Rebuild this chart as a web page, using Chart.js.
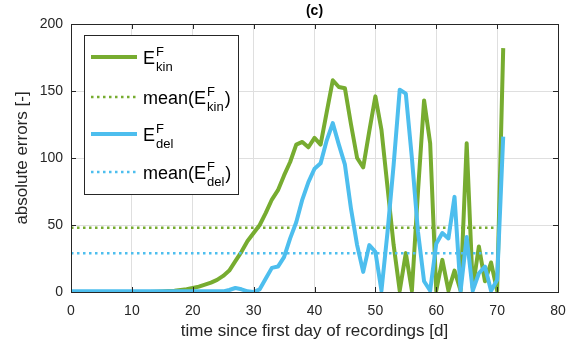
<!DOCTYPE html>
<html>
<head>
<meta charset="utf-8">
<script src="https://cdn.jsdelivr.net/npm/chart.js@4"></script>
<style>
  html, body { margin: 0; padding: 0; background: #fff; }
  #wrap { width: 578px; height: 347px; }
</style>
</head>
<body>
<div id="wrap"><canvas id="errChart" width="578" height="347"></canvas></div>
<script>
// Days since first recording
const days = [];
for (let d = 0; d <= 71; d++) days.push(d);

// E_kin^F absolute errors (green)
const kinErr = [
    0, 0, 0, 0, 0, 0, 0, 0, 0, 0, 0, 0, 0, 0, 0.2,
    0.4, 0.7, 1, 1.5, 2, 3, 4, 5.5, 7, 9, 12, 16, 23, 30, 38,
    44, 50, 59, 69, 76, 87, 97, 110, 112, 108, 115, 110, 134, 158, 153, 152, 125, 100, 93, 120,
    146, 121, 78, 35, 1, 29, 1, 75, 143, 111, 1, 24, 1, 16, 1, 111, 3, 34, 8, 22, 1, 182
];

// E_del^F absolute errors (blue)
const delErr = [
    0.5, 0.5, 0.5, 0.5, 0.5, 0.5, 0.5, 0.5, 0.5, 0.5, 0.5, 0.5, 0.5,
    0.5, 0.5, 0.5, 0.5, 0.5, 0.5, 0.5, 0.5, 0.5, 0.5, 0.5, 0.5, 0.5,
    1.5, 3, 2, 0.5, 0, 2, 10, 18, 19, 26, 40, 52, 69, 82, 92, 96, 113, 126, 110, 95, 62, 35, 15, 35,
    30, 1, 45, 95, 151, 148, 100, 45, 8, 1, 36, 44, 40, 71, 1, 41, 1, 14, 19, 1, 9, 116
];

// means
const meanKin = 48;
const meanDel = 29;
const meanDays = [0, 70];

const xTicks = [0, 10, 20, 30, 40, 50, 60, 70, 80];
const yTicks = [0, 50, 100, 150, 200];

const green = "#77AC30";
const blue = "#4DBEEE";
const axisCol = "#262626";

const pts = (xs, ys) => xs.map((x, i) => ({ x: x, y: ys[i] }));

// box + inward ticks + title + legend (legend needs super/subscripts)
const decor = {
    id: "decor",
    afterDraw(chart) {
        const c = chart.ctx;
        const a = chart.chartArea;
        const xs = chart.scales.x, ys = chart.scales.y;
        c.save();
        c.strokeStyle = axisCol;
        c.lineWidth = 1;
        c.strokeRect(Math.round(a.left) + 0.5, Math.round(a.top) + 0.5,
            Math.round(a.right - a.left), Math.round(a.bottom - a.top));
        const tl = 5;
        c.beginPath();
        xTicks.forEach(t => {
            const px = Math.round(xs.getPixelForValue(t)) + 0.5;
            c.moveTo(px, a.bottom); c.lineTo(px, a.bottom - tl);
            c.moveTo(px, a.top); c.lineTo(px, a.top + tl);
        });
        yTicks.forEach(t => {
            const py = Math.round(ys.getPixelForValue(t)) + 0.5;
            c.moveTo(a.left, py); c.lineTo(a.left + tl, py);
            c.moveTo(a.right, py); c.lineTo(a.right - tl, py);
        });
        c.stroke();

        // title
        c.fillStyle = "#000";
        c.font = "bold 14px 'Liberation Sans', Arial, sans-serif";
        c.textAlign = "center";
        c.textBaseline = "middle";
        c.fillText("(c)", (a.left + a.right) / 2, 11);

        // legend
        const bx = 84, by = 35, bw = 154, bh = 159;
        c.fillStyle = "#fff";
        c.fillRect(bx, by, bw, bh);
        c.strokeStyle = axisCol;
        c.strokeRect(bx + 0.5, by + 0.5, bw, bh);
        const rows = [
            { y: 57, col: green, dash: [], w: 4, pre: "", sub: "kin", post: "" },
            { y: 97, col: green, dash: [2.5, 3.5], w: 2.5, pre: "mean(", sub: "kin", post: ")" },
            { y: 134, col: blue, dash: [], w: 4, pre: "", sub: "del", post: "" },
            { y: 172, col: blue, dash: [2.5, 3.5], w: 2.5, pre: "mean(", sub: "del", post: ")" }
        ];
        c.textAlign = "left";
        c.textBaseline = "alphabetic";
        rows.forEach(r => {
            c.beginPath();
            c.strokeStyle = r.col;
            c.lineWidth = r.w;
            c.setLineDash(r.dash);
            c.moveTo(91, r.y); c.lineTo(137, r.y);
            c.stroke();
            c.setLineDash([]);
            c.fillStyle = "#000";
            const big = "18px 'Liberation Sans', Arial, sans-serif";
            const small = "13px 'Liberation Sans', Arial, sans-serif";
            let x = 143;
            c.font = big;
            c.fillText(r.pre + "E", x, r.y + 7);
            x += c.measureText(r.pre + "E").width + 1;
            c.font = small;
            c.fillText("F", x, r.y - 1);
            c.fillText(r.sub, x, r.y + 14);
            x += c.measureText(r.sub).width + 1;
            if (r.post) {
                c.font = big;
                c.fillText(r.post, x, r.y + 7);
            }
        });
        c.restore();
    }
};

const tickFont = { family: "'Liberation Sans', Arial, sans-serif", size: 14 };

new Chart(document.getElementById("errChart").getContext("2d"), {
    type: "line",
    data: {
        datasets: [
            { data: pts(days, kinErr), borderColor: green, borderWidth: 4, order: 3 },
            { data: pts(meanDays, [meanKin, meanKin]), borderColor: green, borderWidth: 2.5, borderDash: [2.5, 3.5], order: 2 },
            { data: pts(days, delErr), borderColor: blue, borderWidth: 4, order: 1 },
            { data: pts(meanDays, [meanDel, meanDel]), borderColor: blue, borderWidth: 2.5, borderDash: [2.5, 3.5], order: 0 }
        ]
    },
    options: {
        responsive: false,
        animation: false,
        events: [],
        elements: {
            point: { radius: 0 },
            line: { tension: 0, borderJoinStyle: "round", fill: false }
        },
        layout: { padding: { left: 0, right: 20, top: 24, bottom: 0 } },
        plugins: { legend: { display: false }, title: { display: false }, tooltip: { enabled: false } },
        scales: {
            x: {
                type: "linear",
                min: 0, max: 80,
                afterBuildTicks: s => { s.ticks = xTicks.map(v => ({ value: v })); },
                afterFit: s => { s.height = 55; },
                grid: { color: "#dfdfdf", drawTicks: false },
                border: { display: false },
                ticks: { color: axisCol, font: tickFont, padding: 11, maxRotation: 0 },
                title: {
                    display: true, text: "time since first day of recordings [d]",
                    color: axisCol, font: { family: tickFont.family, size: 17 },
                    padding: { top: 0, bottom: 5 }
                }
            },
            y: {
                min: 0, max: 200,
                afterBuildTicks: s => { s.ticks = yTicks.map(v => ({ value: v })); },
                afterFit: s => { s.width = 71; },
                grid: { color: "#dfdfdf", drawTicks: false },
                border: { display: false },
                ticks: { color: axisCol, font: tickFont, padding: 8 },
                title: {
                    display: true, text: "absolute errors [-]",
                    color: axisCol, font: { family: tickFont.family, size: 17 },
                    padding: { top: 12, bottom: 0 }
                }
            }
        }
    },
    plugins: [decor]
});
</script>
</body>
</html>
